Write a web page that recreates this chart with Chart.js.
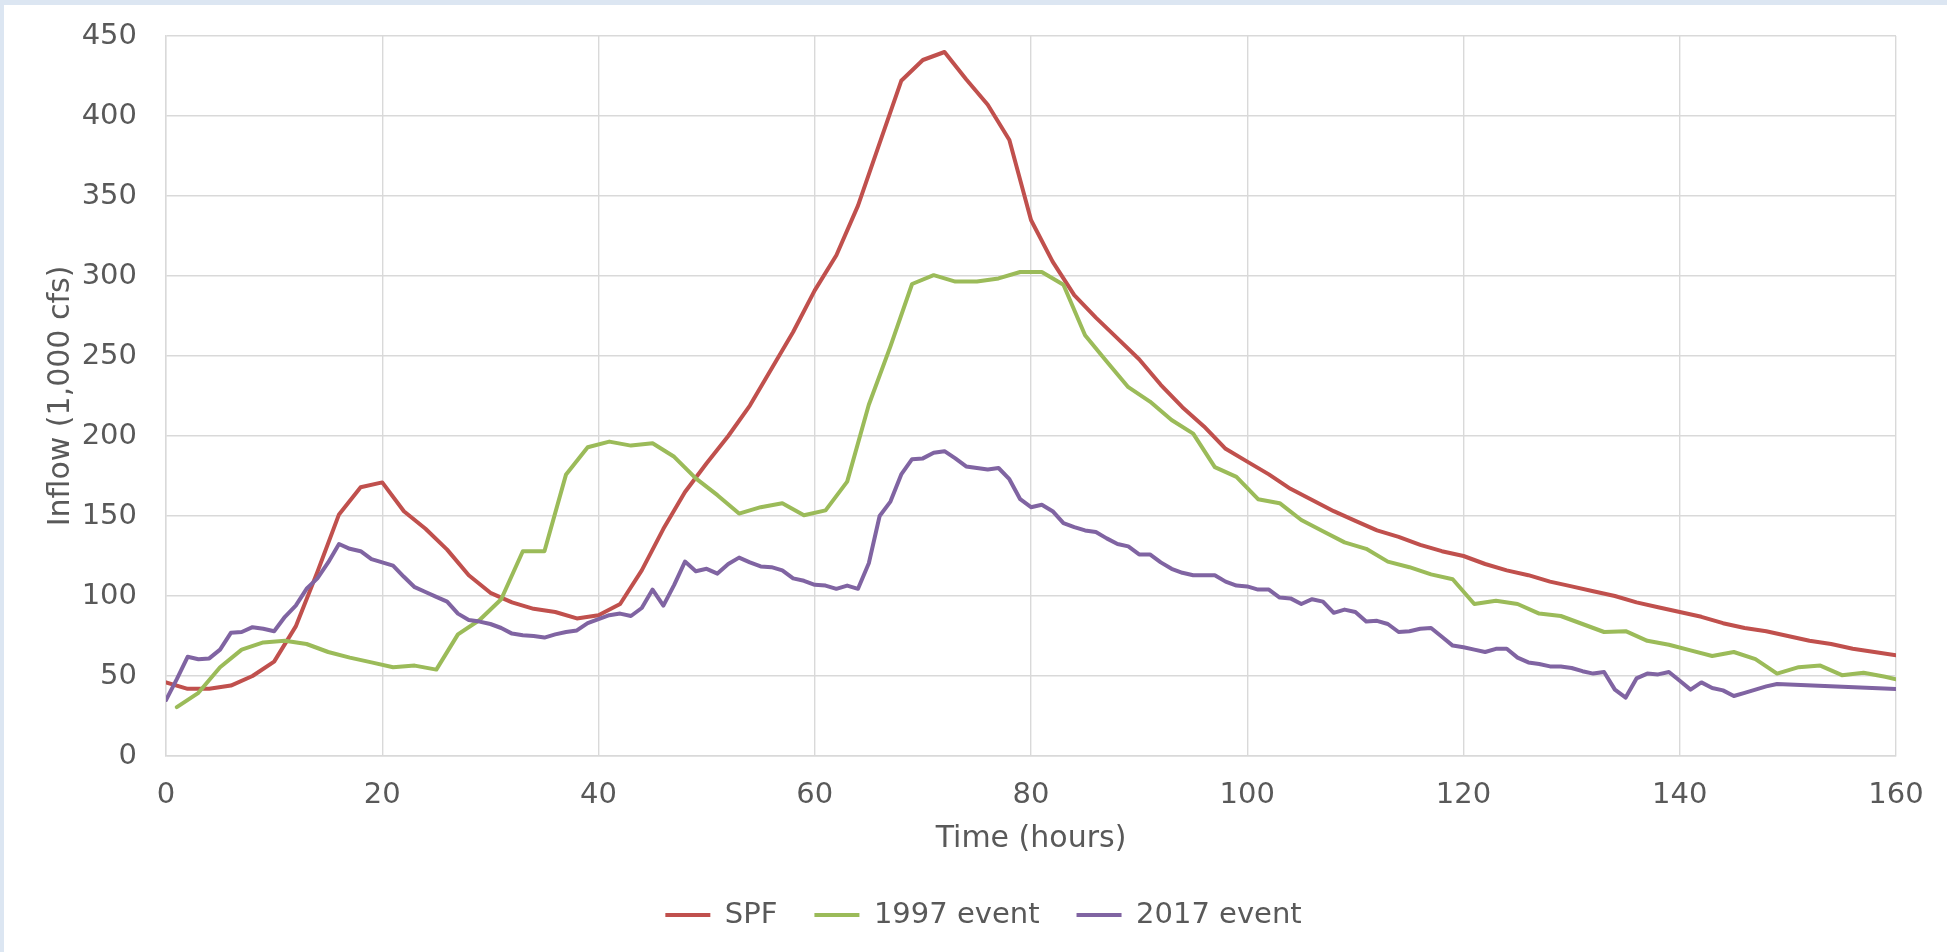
<!DOCTYPE html>
<html><head><meta charset="utf-8">
<script src="https://cdn.jsdelivr.net/npm/chart.js@4.4.1/dist/chart.umd.min.js"></script>
<style>
html,body{margin:0;padding:0;background:#dce6f2;width:1947px;height:952px;overflow:hidden}
#wrap{position:absolute;left:4px;top:5px;width:1943px;height:947px;background:#fff}
canvas{display:block}
</style></head><body><div id="wrap"><canvas id="c" width="1943" height="947"></canvas></div>
<script>
const seriesNames = ['SPF', '1997 event', '2017 event'];
const seriesColors = ['#C0504D', '#9BBB59', '#8064A2'];

const spfHours = [0,2,4,6,8,10,12,14,16,18,20,22,24,26,28,30,32,34,36,38,40,42,44,46,48,50,52,54,56,58,60,62,64,66,68,70,72,74,76,78,80,82,84,86,88,90,92,94,96,98,100,102,104,106,108,110,112,114,116,118,120,122,124,126,128,130,132,134,136,138,140,142,144,146,148,150,152,154,156,158,160];
const spfFlow = [46,42,42,44,50,59,81,115,151,168,171,153,142,129,113,102,96,92,90,86,88,95,116,142,165,183,200,219,242,265,291,313,344,383,422,435,440,423,407,385,335,309,288,274,261,248,232,218,206,192,184,176,167,160,153,147,141,137,132,128,125,120,116,113,109,106,103,100,96,93,90,87,83,80,78,75,72,70,67,65,63];

const ev1997Hours = [1,3,5,7,9,11,13,15,17,19,21,23,25,27,29,31,33,35,37,39,41,43,45,47,49,51,53,55,57,59,61,63,65,67,69,71,73,75,77,79,81,83,85,87,89,91,93,95,97,99,101,103,105,107,109,111,113,115,117,119,121,123,125,127,129,131,133,135,137,139,141,143,145,147,149,151,153,155,157,159,160];
const ev1997Flow = [30.5,39.5,55.5,66.5,71,72,70,65,61.5,58.5,55.5,56.5,54,76,85,98,128,128,176,193,196.5,194,195.5,187,173.5,163,151.5,155.5,158,150.5,153.5,171.5,219.5,256,295,300.5,296.5,296.5,298.5,302.5,302.5,294.5,263,246.5,230.5,221.5,210,201.5,180.5,174.5,160.5,158,147.5,140.5,133.5,129.5,121.5,118,113.5,110.5,95,97,95,89,87.5,82.5,77.5,78,72,69.5,66,62.5,65,60.5,51.5,55.5,56.5,50.5,52,49.5,48];

const ev2017Hours = [0,1,2,3,4,5,6,7,8,9,10,11,12,13,14,15,16,17,18,19,20,21,22,23,24,25,26,27,28,29,30,31,32,33,34,35,36,37,38,39,40,41,42,43,44,45,46,47,48,49,50,51,52,53,54,55,56,57,58,59,60,61,62,63,64,65,66,67,68,69,70,71,72,73,74,75,76,77,78,79,80,81,82,83,84,85,86,87,88,89,90,91,92,93,94,95,96,97,98,99,100,101,102,103,104,105,106,107,108,109,110,111,112,113,114,115,116,117,118,119,120,121,122,123,124,125,126,127,128,129,130,131,132,133,134,135,136,137,138,139,140,141,142,143,144,145,146,147,148,149,160];
const ev2017Flow = [35,48,62,60.5,61,66.5,77,77.5,80.5,79.5,78,87,94,104.5,111,121,132.5,129.5,128,123,121,119,112,105.5,102.5,99.5,96.5,89,85,84,82.5,80,76.5,75.5,75,74,76,77.5,78.5,83,85.5,88,89,87.5,92.5,104,94,107,121.5,115.5,117,114,120,124,121,118.5,118,116,111,109.5,107,106.5,104.5,106.5,104.5,120.5,150,159,176,185.5,186,189.5,190.5,186,181,180,179,180,173,160.5,155.5,157,153,145.5,143,141,140,136,132.5,131,126,126,121,117,114.5,113,113,113,109,106.5,106,104,104,99,98.5,95,98,96.5,89.5,91.5,90,84,84.5,82.5,77.5,78,79.5,80,74.5,69,68,66.5,65,67,67,61.5,58.5,57.5,56,56,55,53,51.5,52.5,41.5,36.5,48.5,51.5,51,52.5,47,41.5,46,42.5,41,37.5,39.5,41.5,43.5,45,41.8];

const xTickValues = [0,20,40,60,80,100,120,140,160];
const yTickValues = [0,50,100,150,200,250,300,350,400,450];

const toPoints = (xs, ys) => xs.map((x, i) => ({x: x, y: ys[i]}));
const FONT = 'DejaVu Sans';
const TEXT = '#595959';
const GRID = '#d9d9d9';
const LEFT_PAD = 67;
const LW = 4;

const mkSet = (i, data, order) => ({
  label: seriesNames[i], data: data,
  borderColor: seriesColors[i], backgroundColor: seriesColors[i],
  borderWidth: LW, pointBorderWidth: LW, pointBorderColor: seriesColors[i],
  pointRadius: 0, pointHoverRadius: 0, order: order
});

new Chart(document.getElementById('c'), {
  type: 'line',
  data: {
    datasets: [
      mkSet(0, toPoints(spfHours, spfFlow), 3),
      mkSet(1, toPoints(ev1997Hours, ev1997Flow), 2),
      mkSet(2, toPoints(ev2017Hours, ev2017Flow), 1)
    ]
  },
  options: {
    responsive: false,
    animation: false,
    devicePixelRatio: 1,
    parsing: false,
    elements: {
      line: {tension: 0, borderCapStyle: 'round', borderJoinStyle: 'round'}
    },
    layout: {padding: {left: LEFT_PAD, right: 51, top: 31, bottom: 12.5}},
    scales: {
      x: {
        type: 'linear', min: 0, max: 160,
        afterBuildTicks: s => { s.ticks = xTickValues.map(v => ({value: v})); },
        afterFit: s => { s.height = 107.5; },
        ticks: {padding: 0, color: TEXT, font: {family: FONT, size: 29}, maxRotation: 0},
        grid: {color: GRID, lineWidth: 1.4, drawTicks: true, tickLength: 21.6, tickColor: 'rgba(0,0,0,0)', tickWidth: 0},
        border: {display: true, color: GRID, width: 1.4},
        title: {display: true, text: 'Time (hours)', color: TEXT, font: {family: FONT, size: 30}, padding: {top: 0, bottom: 6}}
      },
      y: {
        type: 'linear', min: 0, max: 450,
        afterBuildTicks: s => { s.ticks = yTickValues.map(v => ({value: v})); },
        afterFit: s => { s.width = 162 - LEFT_PAD; },
        ticks: {padding: 0, color: TEXT, font: {family: FONT, size: 29}},
        grid: {color: GRID, lineWidth: 1.4, drawTicks: true, tickLength: 29, tickColor: 'rgba(0,0,0,0)', tickWidth: 0},
        border: {display: true, color: GRID, width: 1.4},
        title: {display: true, text: 'Inflow (1,000 cfs)', color: TEXT, font: {family: FONT, size: 30}, padding: {top: -27.5, bottom: 0}}
      }
    },
    plugins: {
      legend: {
        position: 'bottom',
        labels: {
          usePointStyle: true, pointStyle: 'line', pointStyleWidth: 45,
          padding: 37, color: TEXT, font: {family: FONT, size: 29},
          sort: (a, b) => a.datasetIndex - b.datasetIndex
        }
      },
      tooltip: {enabled: false}
    }
  }
});
</script>
</body></html>
